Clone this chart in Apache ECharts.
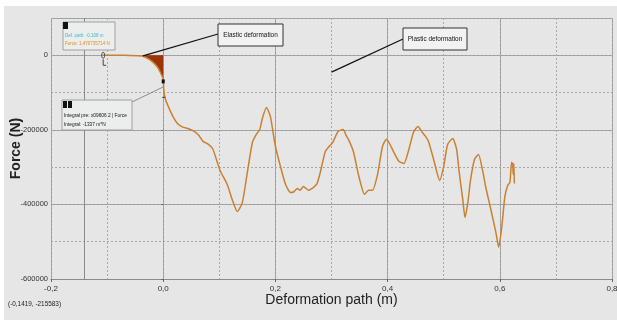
<!DOCTYPE html>
<html>
<head>
<meta charset="utf-8">
<script src="https://cdn.jsdelivr.net/npm/echarts@6/dist/echarts.min.js"></script>
<style>
  html, body { margin: 0; padding: 0; background: #ffffff; }
  #bg { position: absolute; left: 4px; top: 6px; width: 613px; height: 314px; background: #e6e6e6; }
  #chart { position: absolute; left: 0; top: 0; width: 617px; height: 320px; }
</style>
</head>
<body>
<div id="bg"></div>
<div id="chart"></div>
<script>
// deformation path (m) and force (N)
const path = [
  -0.107, -0.08, -0.06, -0.045, -0.0375, -0.028, -0.018, -0.01, -0.005, 0.0,
  0.001, 0.004, 0.009, 0.018, 0.025, 0.034, 0.045, 0.054, 0.063, 0.071,
  0.08, 0.088, 0.095, 0.102, 0.114, 0.123, 0.132, 0.141, 0.15, 0.159,
  0.166, 0.172, 0.177, 0.184, 0.191, 0.2, 0.209, 0.218, 0.227, 0.233,
  0.239, 0.244, 0.25, 0.259, 0.268, 0.274, 0.28, 0.289, 0.296, 0.302,
  0.312, 0.321, 0.326, 0.33, 0.339, 0.348, 0.359, 0.366, 0.373, 0.382,
  0.391, 0.398, 0.404, 0.411, 0.42, 0.429, 0.438, 0.446, 0.454, 0.462,
  0.468, 0.473, 0.482, 0.493, 0.5, 0.507, 0.516, 0.523, 0.527, 0.534,
  0.538, 0.543, 0.548, 0.555, 0.562, 0.57, 0.575, 0.584, 0.593, 0.598,
  0.604, 0.609, 0.614, 0.618, 0.621, 0.623, 0.624, 0.625, 0.626
];
const force = [
  0, 0, -300, -1000, -2000, -8000, -19000, -32000, -46000, -64000,
  -91000, -118000, -137000, -166000, -182000, -192000, -197000, -203000, -214000, -231000,
  -238000, -250000, -280000, -311000, -346000, -387000, -419000, -395000, -314000, -234000,
  -212000, -200000, -168000, -140000, -164000, -244000, -298000, -346000, -368000, -366000,
  -357000, -362000, -352000, -362000, -354000, -345000, -314000, -258000, -244000, -234000,
  -204000, -199000, -215000, -225000, -258000, -320000, -373000, -362000, -362000, -320000,
  -244000, -225000, -238000, -260000, -284000, -290000, -252000, -207000, -191000, -207000,
  -218000, -231000, -279000, -336000, -298000, -239000, -223000, -252000, -306000, -387000,
  -435000, -395000, -333000, -279000, -266000, -314000, -354000, -413000, -475000, -515000,
  -454000, -379000, -349000, -341000, -287000, -292000, -320000, -290000, -344000
];
// elastic part, shaded between the curve and zero
const elasticStart = -0.0375;
const elasticEnd = 0.0;

const xTicks = [-0.2, 0.8];
const yTicks = [-600000, 100000];

const curve = path.map((x, i) => [x, force[i]]);
const elastic = curve.filter((p) => p[0] >= elasticStart && p[0] <= elasticEnd);

const sans = "'Liberation Sans', Arial, sans-serif";
const solidLine = { color: "#9c9c9c", width: 1, type: "solid" };
const dotLine = { color: "#a8a8a8", width: 1, type: [2, 2] };

const chart = echarts.init(document.getElementById("chart"));

const option = {
  animation: false,
  grid: { left: 51, right: 5, top: 18, bottom: 41, outerBoundsMode: "none" },
  xAxis: [
    {
      type: "value",
      min: xTicks[0],
      max: xTicks[1],
      interval: 0.2,
      name: "Deformation path (m)",
      nameLocation: "middle",
      nameGap: 14,
      nameMoveOverlap: false,
      nameTextStyle: { fontFamily: sans, fontSize: 14, color: "#222" },
      axisLine: { onZero: false, lineStyle: { color: "#8a8a8a" } },
      axisTick: { show: true, length: 3, lineStyle: { color: "#666" } },
      axisLabel: {
        margin: 6,
        fontFamily: sans,
        fontSize: 8,
        color: "#333",
        formatter: (v) => v.toFixed(1).replace(".", ","),
      },
      splitLine: { show: true, lineStyle: solidLine },
    },
    {
      type: "value",
      min: xTicks[0],
      max: xTicks[1],
      interval: 0.1,
      position: "bottom",
      axisLine: { show: false },
      axisTick: { show: false },
      axisLabel: { show: false },
      splitLine: { show: true, lineStyle: dotLine },
    },
  ],
  yAxis: [
    {
      type: "value",
      min: yTicks[0],
      max: yTicks[1],
      interval: 200000,
      name: "Force (N)",
      nameLocation: "middle",
      nameGap: 28,
      nameMoveOverlap: false,
      nameTextStyle: { fontSize: 14, fontWeight: "bold", color: "#222", fontFamily: sans },
      axisLine: { show: false },
      axisTick: { show: true, length: 2, lineStyle: { color: "#666" } },
      axisLabel: {
        margin: 3,
        fontFamily: sans,
        fontSize: 7.5,
        color: "#333",
        showMaxLabel: false,
        formatter: (v) => String(v),
      },
      splitLine: { show: true, lineStyle: solidLine },
    },
    {
      type: "value",
      min: yTicks[0],
      max: yTicks[1],
      interval: 100000,
      axisLine: { show: false },
      axisTick: { show: false },
      axisLabel: { show: false },
      splitLine: { show: true, lineStyle: dotLine },
    },
  ],
  series: [
    {
      name: "elastic",
      type: "line",
      data: elastic,
      xAxisIndex: 0,
      yAxisIndex: 0,
      symbol: "none",
      smooth: 0.2,
      lineStyle: { width: 0 },
      areaStyle: { color: "#9c3505", opacity: 1 },
      z: 2,
    },
    {
      name: "force",
      type: "line",
      data: curve,
      xAxisIndex: 0,
      yAxisIndex: 0,
      symbol: "none",
      smooth: 0.2,
      lineStyle: { color: "#c9812f", width: 1.5 },
      markLine: {
        silent: true,
        symbol: "none",
        label: { show: false },
        lineStyle: { color: "#8a8a8a", width: 1, type: "solid" },
        data: [{ xAxis: -0.1419 }],
      },
      z: 3,
    },
  ],
};

chart.setOption(option);

// annotations: anchors in data coordinates, boxes in pixels
const px = (x, y) => chart.convertToPixel({ xAxisIndex: 0, yAxisIndex: 0 }, [x, y]);
const startPt = px(-0.107, 0);
const elasticPt = px(-0.036, -1500);
const plasticPt = px(0.3, -45000);
const integralPt = px(0.0, -85000);
const cursorPt = px(0.0, -70000);

function box(x, y, w, h, fill, stroke) {
  return { type: "rect", shape: { x, y, width: w, height: h }, style: { fill, stroke, lineWidth: 1 }, z: 10 };
}
// narrow-looking text: squeeze horizontally
function label(x, y, text, size, color, align, squeeze) {
  return {
    type: "text", x, y, z: 11, scaleX: squeeze || 0.8,
    style: { text, fontSize: size, fill: color, fontFamily: sans, align: align || "left", verticalAlign: "middle" },
  };
}
function seg(a, b, color, w) {
  return { type: "line", shape: { x1: a[0], y1: a[1], x2: b[0], y2: b[1] }, style: { stroke: color, lineWidth: w }, z: 9 };
}

chart.setOption({
  graphic: [
    // pointer lines
    seg(elasticPt, [218, 34], "#111", 1.3),
    seg(plasticPt, [403, 39], "#111", 1.3),
    seg(integralPt, [132, 102], "#777", 0.8),
    // start marker
    { type: "ellipse", shape: { cx: startPt[0], cy: startPt[1], rx: 1.5, ry: 3 }, style: { fill: "none", stroke: "#444", lineWidth: 1 }, z: 10 },
    { type: "polyline", shape: { points: [[startPt[0], startPt[1] + 4], [startPt[0], startPt[1] + 10], [startPt[0] + 3, startPt[1] + 10]] }, style: { fill: "none", stroke: "#444", lineWidth: 1 }, z: 10 },
    // cursor marker
    { type: "rect", shape: { x: cursorPt[0] - 1.5, y: cursorPt[1] - 2, width: 3, height: 4 }, style: { fill: "#111" }, z: 10 },
    { type: "line", shape: { x1: cursorPt[0] - 1, y1: cursorPt[1] + 16, x2: cursorPt[0] + 2, y2: cursorPt[1] + 16 }, style: { stroke: "#444", lineWidth: 1 }, z: 10 },
    // point readout box
    box(63, 22, 52, 28, "#eceeee", "#a0a0a0"),
    { type: "rect", shape: { x: 63, y: 22, width: 5, height: 7 }, style: { fill: "#111" }, z: 11 },
    label(65, 35, "Def. path: -0,108 m", 6, "#3fb6c2", "left", 0.75),
    label(65, 43.5, "Force: 1,470735714 N", 6, "#e08a1e", "left", 0.75),
    // integral box
    box(62, 100, 70, 30, "#eceeee", "#a0a0a0"),
    { type: "rect", shape: { x: 63, y: 101, width: 4, height: 7 }, style: { fill: "#111" }, z: 11 },
    { type: "rect", shape: { x: 68, y: 101, width: 4, height: 7 }, style: { fill: "#111" }, z: 11 },
    label(64, 115.5, "Integral pre: x09606 2 | Force", 6, "#111", "left", 0.8),
    label(64, 124, "Integral: -1337 m*N", 6, "#111", "left", 0.8),
    // region labels
    box(218, 24, 65, 22, "#f2f2f2", "#333"),
    label(250.5, 35, "Elastic deformation", 8, "#111", "center", 0.8),
    box(403, 28, 64, 22, "#f2f2f2", "#333"),
    label(435, 39, "Plastic deformation", 8, "#111", "center", 0.8),
    // cursor readout
    label(8, 304, "(-0,1419, -215583)", 8, "#222", "left", 0.8),
  ],
});
</script>
</body>
</html>
